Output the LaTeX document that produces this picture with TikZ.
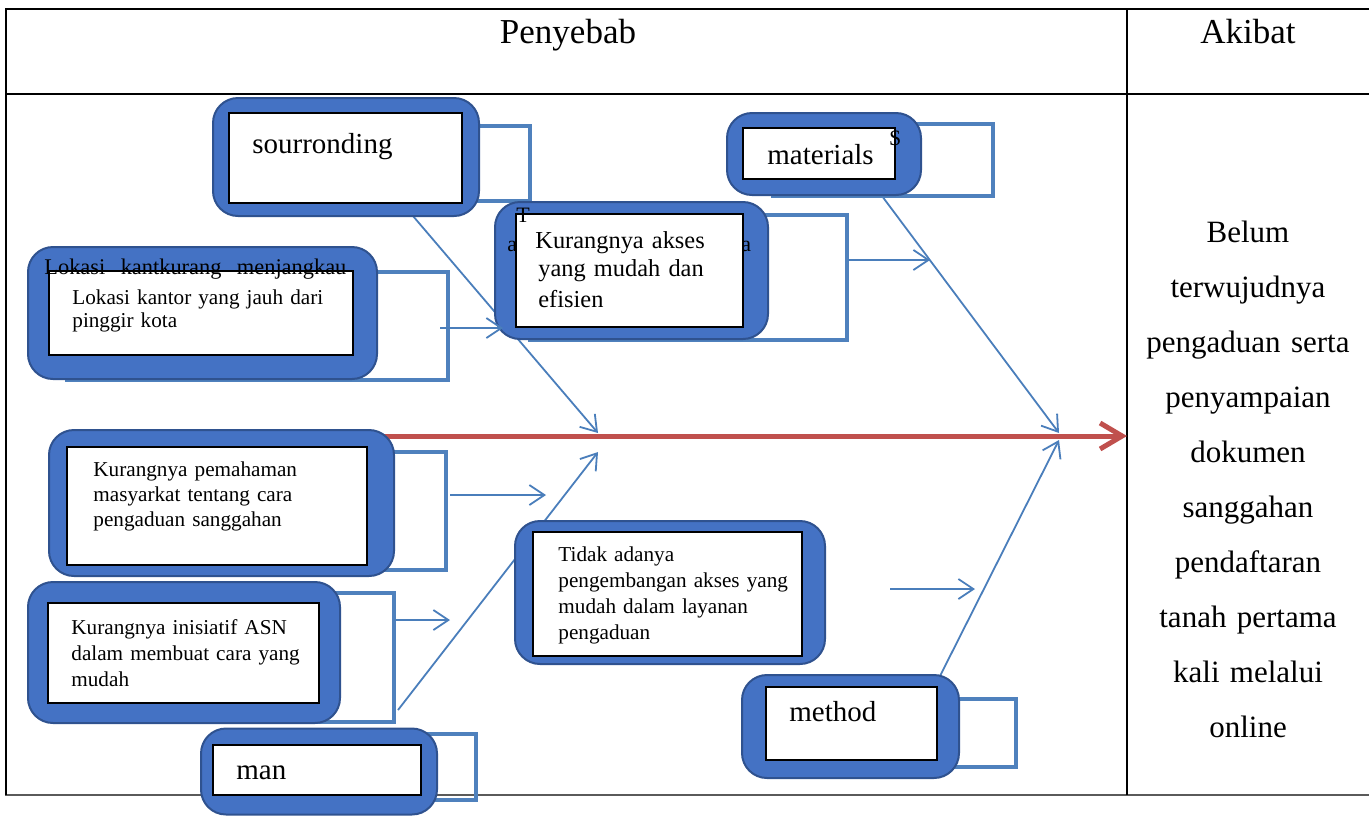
\documentclass[tikz,border=0pt]{standalone}
\usepackage{fontspec}
\setmainfont{Liberation Serif}
\usetikzlibrary{arrows.meta}
\definecolor{rboxfill}{RGB}{68,114,196}
\definecolor{rboxline}{RGB}{47,82,143}
\definecolor{outl}{RGB}{79,129,189}
\definecolor{bonec}{RGB}{74,126,187}
\definecolor{redc}{RGB}{192,80,77}
\definecolor{botline}{RGB}{90,90,90}
\tikzset{
  rbox/.style={draw=rboxline, line width=1pt, fill=rboxfill, rounded corners=12.5pt, inner sep=0pt},
  ibox/.style={draw=black, line width=0.6pt, fill=white, inner sep=0pt},
  obox/.style={draw=outl, line width=2pt},
  bone/.style={draw=bonec, line width=0.9pt, -{Straight Barb[length=7.5pt,width=10pt]}},
  redarrow/.style={draw=redc, line width=2.5pt, -{Straight Barb[length=11pt,width=13pt]}},
  tbl/.style={draw=black, line width=1pt},
  txt/.style={anchor=base west, inner sep=0pt, align=left, text width=200pt},
  big/.style={font=\fontsize{14.5}{17}\selectfont},
}
\begin{document}
\begin{tikzpicture}[x=0.5pt,y=-0.5pt]
\useasboundingbox (0,0) rectangle (1369,815);
% table
\draw[draw=botline, line width=0.6pt] (5,795) -- (1369,795);
\draw[tbl] (5,9) -- (1369,9);
\draw[tbl] (5,94) -- (1369,94);
\draw[tbl] (6,9) -- (6,795);
\draw[tbl] (1127,9) -- (1127,795);
\node[anchor=base, inner sep=0pt, font=\fontsize{17.5}{20}\selectfont] (hpen) at (568,43) {Penyebab};
\node[anchor=base, inner sep=0pt, font=\fontsize{17.5}{20}\selectfont] (haki) at (1248,43) {Akibat};
\node[anchor=base, inner sep=0pt, align=center, text width=120pt, font=\fontsize{15.5}{27.5}\selectfont] (akibat) at (1248,242)
  {Belum\\terwujudnya\\pengaduan serta\\penyampaian\\dokumen\\sanggahan\\pendaftaran\\tanah pertama\\kali melalui\\online};
% coordinates for bones
\coordinate (b1s) at (413,216); \coordinate (b1e) at (598,433);
\coordinate (b2s) at (398,710); \coordinate (b2e) at (598,452);
\coordinate (b3s) at (882,196); \coordinate (b3e) at (1059,433);
\coordinate (b4s) at (940,676); \coordinate (b4e) at (1059,440);
\coordinate (h1s) at (440,328); \coordinate (h1e) at (503,328);
\coordinate (h2s) at (848,260); \coordinate (h2e) at (930,260);
\coordinate (h3s) at (450,495); \coordinate (h3e) at (546,495);
\coordinate (h4s) at (394,620); \coordinate (h4e) at (450,620);
\coordinate (h5s) at (890,589); \coordinate (h5e) at (975,589);
\coordinate (rs) at (360,436); \coordinate (re) at (1127,436);
\draw[bone] (b1s) -- (b1e);
\draw[bone] (b2s) -- (b2e);
\draw[bone] (b3s) -- (b3e);
\draw[bone] (b4s) -- (b4e);
\draw[redarrow] (rs) -- (re);
% sourronding
\draw[obox] (250,126) rectangle (530,201);
\node[rbox, minimum width=133pt, minimum height=59pt] (sur) at (346,157) {};
\node[ibox, minimum width=116.5pt, minimum height=45pt] (suri) at (345.5,158) {};
\node[txt, big] (surt) at (252,153) {sourronding};
% materials
\draw[obox] (773,124) rectangle (993,196);
\node[rbox, minimum width=97pt, minimum height=41pt] (mat) at (824,154) {};
\node[ibox, minimum width=76pt, minimum height=25.5pt] (mati) at (819,153.5) {};
\node[txt, big] (matt) at (767,164) {materials};
\node[anchor=base, inner sep=0pt, font=\fontsize{11}{13}\selectfont] (dol) at (895,145) {\$};
% Kurangnya akses
\draw[obox] (530,215) rectangle (847,340);
\node[rbox, minimum width=136.5pt, minimum height=68.5pt] (aks) at (631.5,270.5) {};
\node[ibox, minimum width=113.5pt, minimum height=56.5pt] (aksi) at (629.5,270.5) {};
\node[txt, font=\fontsize{12.2}{13.5}\selectfont] (akst1) at (535,248) {Kurangnya akses};
\node[txt, font=\fontsize{12.2}{13.5}\selectfont] (akst2) at (538,276) {yang mudah dan};
\node[txt, font=\fontsize{12.2}{13.5}\selectfont] (akst3) at (538,307) {efisien};
\node[anchor=base west, inner sep=0pt, font=\fontsize{11}{13}\selectfont] (tT) at (516,222) {T};
\node[anchor=base west, inner sep=0pt, font=\fontsize{11}{13}\selectfont] (ta1) at (507,251) {a};
\node[anchor=base west, inner sep=0pt, font=\fontsize{11}{13}\selectfont] (ta2) at (741,251) {a};
% Lokasi
\draw[obox] (67,272) rectangle (448,380);
\node[rbox, minimum width=174.5pt, minimum height=66pt] (lok) at (202.5,313) {};
\node[ibox, minimum width=152pt, minimum height=42pt] (loki) at (201,313) {};
\node[anchor=base west, inner sep=0pt, font=\fontsize{11.2}{13}\selectfont] (lokh) at (44,274)
  {\hbox to 151pt{Lokasi\hfil kantkurang\hfil menjangkau}};
\node[txt, font=\fontsize{10.6}{11.7}\selectfont] (lokt) at (72,304) {Lokasi kantor yang jauh dari\\pinggir kota};
% Kurangnya pemahaman
\draw[obox] (100,452) rectangle (446,570);
\node[rbox, minimum width=172.5pt, minimum height=73pt] (pem) at (221.5,503) {};
\node[ibox, minimum width=150pt, minimum height=59pt] (pemi) at (217,506) {};
\node[txt, font=\fontsize{10.6}{12.6}\selectfont] (pemt) at (93,476) {Kurangnya pemahaman\\masyarkat tentang cara\\pengaduan sanggahan};
% Kurangnya inisiatif
\draw[obox] (82,593) rectangle (394,722);
\node[rbox, minimum width=156pt, minimum height=70.5pt] (ini) at (184,652.5) {};
\node[ibox, minimum width=135.5pt, minimum height=50pt] (inii) at (183.5,653) {};
\node[txt, font=\fontsize{10.6}{13.2}\selectfont] (init) at (71,634) {Kurangnya inisiatif ASN\\dalam membuat cara yang\\mudah};
% man
\draw[obox] (250,734) rectangle (476,800);
\node[rbox, minimum width=118pt, minimum height=43pt] (man) at (319,771.5) {};
\node[ibox, minimum width=104pt, minimum height=25pt] (mani) at (317,770) {};
\node[txt, big] (mant) at (236,779) {man};
% Tidak adanya
\node[rbox, minimum width=155pt, minimum height=71.5pt] (tid) at (670,592.5) {};
\node[ibox, minimum width=134.5pt, minimum height=62pt] (tidi) at (667.5,594) {};
\node[txt, font=\fontsize{10.6}{13}\selectfont] (tidt) at (558,561) {Tidak adanya\\pengembangan akses yang\\mudah dalam layanan\\pengaduan};
% method
\draw[obox] (800,699) rectangle (1016,767);
\node[rbox, minimum width=108.5pt, minimum height=51.5pt] (met) at (850.5,726.5) {};
\node[ibox, minimum width=85.5pt, minimum height=36.5pt] (meti) at (851.5,723.5) {};
\node[txt, big] (mett) at (789,721) {method};
% small arrows
\draw[bone] (h1s) -- (h1e);
\draw[bone] (h2s) -- (h2e);
\draw[bone] (h3s) -- (h3e);
\draw[bone] (h4s) -- (h4e);
\draw[bone] (h5s) -- (h5e);
\end{tikzpicture}
\end{document}
